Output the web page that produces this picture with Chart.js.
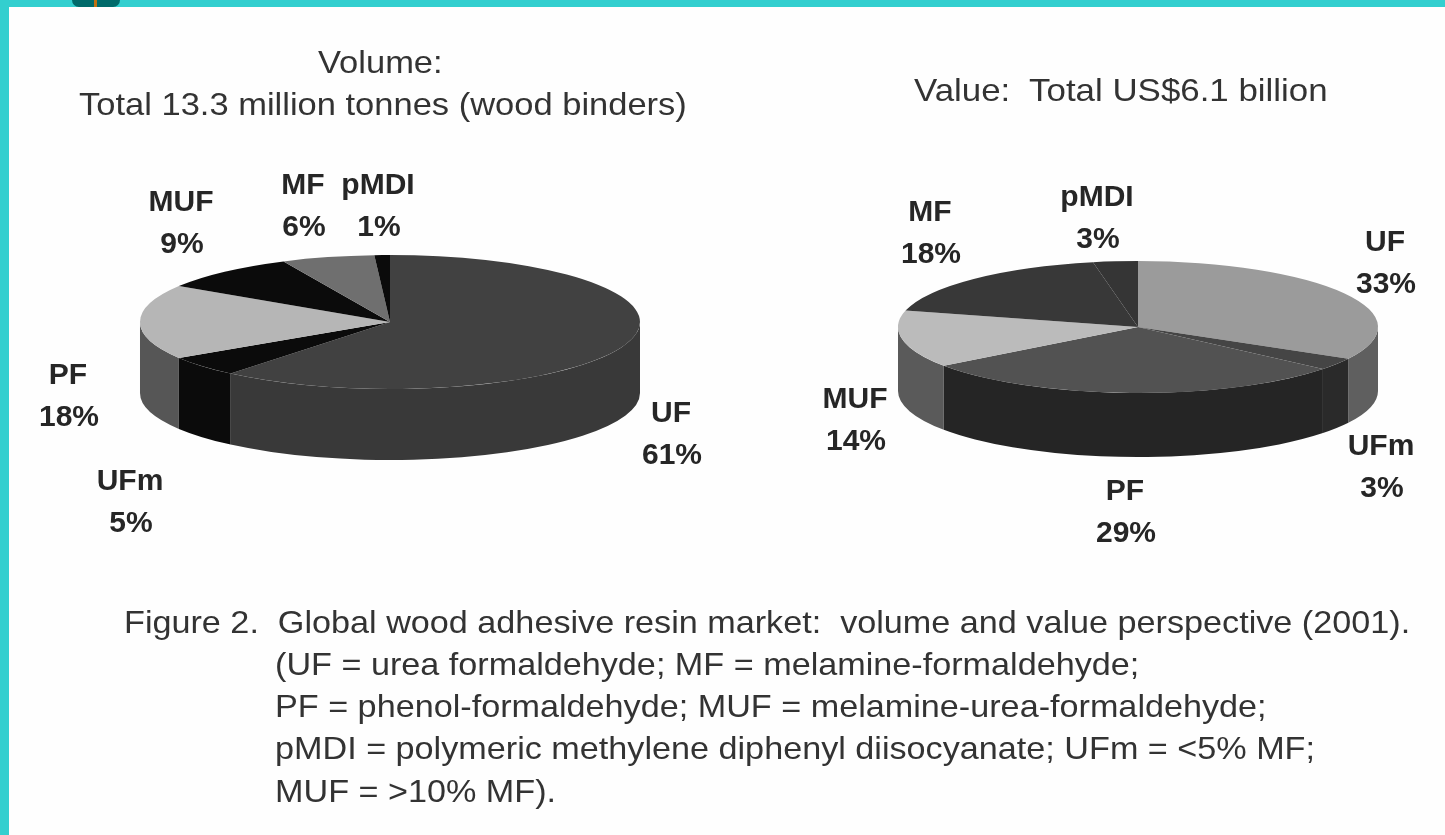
<!DOCTYPE html>
<html>
<head>
<meta charset="utf-8">
<script src="https://cdn.jsdelivr.net/npm/chart.js@4/dist/chart.umd.min.js"></script>
<style>
html,body{margin:0;padding:0;background:#fff;overflow:hidden}
#page{position:relative;width:1445px;height:835px;background:#fefefe;filter:blur(.7px);font-family:"Liberation Sans",Arial,sans-serif;color:#333}
.edge{position:absolute;background:#33cfcf}
#edge-top{left:0;top:0;width:1445px;height:7px}
#edge-left{left:0;top:0;width:9px;height:835px}
#tab{position:absolute;left:72px;top:0;width:48px;height:7px;background:#006a6a;border-radius:0 0 8px 8px}
#tab-bar{position:absolute;left:94px;top:0;width:3px;height:7px;background:#c07010}
canvas{position:absolute;top:0}
.t{position:absolute;white-space:nowrap;font-size:32px;line-height:42px;transform-origin:0 50%;transform:scaleX(1.078)}
.cap{font-size:31.5px;left:275px;transform:scaleX(1.085)}
</style>
</head>
<body>
<div id="page">
  <div class="edge" id="edge-top"></div>
  <div class="edge" id="edge-left"></div>
  <div id="tab"></div><div id="tab-bar"></div>
  <canvas id="pie-volume" width="722" height="835" style="left:0;width:722px;height:835px"></canvas>
  <canvas id="pie-value" width="723" height="835" style="left:722px;width:723px;height:835px"></canvas>
  <div class="t" style="left:318px;top:41px">Volume:</div>
  <div class="t" style="left:79px;top:83px">Total 13.3 million tonnes (wood binders)</div>
  <div class="t" style="left:914px;top:69px;transform:scaleX(1.09)">Value:&nbsp; Total US$6.1 billion</div>
  <div class="t cap" style="left:124px;top:601px">Figure 2.&nbsp; Global wood adhesive resin market:&nbsp; volume and value perspective (2001).</div>
  <div class="t cap" style="top:643px">(UF = urea formaldehyde; MF = melamine-formaldehyde;</div>
  <div class="t cap" style="top:685px">PF = phenol-formaldehyde; MUF = melamine-urea-formaldehyde;</div>
  <div class="t cap" style="top:727px">pMDI = polymeric methylene diphenyl diisocyanate; UFm = &lt;5% MF;</div>
  <div class="t cap" style="top:770px">MUF = &gt;10% MF).</div>
</div>
<script>
// data
const categories=['UF','UFm','PF','MUF','MF','pMDI'];
const volumeShare=[61,5,18,9,6,1];
const valueShare=[33,3,29,14,18,3];

// top face and wall greys per slice
const volumeTop=['#414141','#0b0b0b','#b6b6b6','#0b0b0b','#6f6f6f','#0b0b0b'];
const volumeWall=['#393939','#0b0b0b','#565656','#0b0b0b','#555555','#0b0b0b'];
const valueTop=['#9b9b9b','#454545','#525252','#bbbbbb','#383838','#353535'];
const valueWall=['#5f5f5f','#2a2a2a','#252525','#5a5a5a','#333333','#333333'];

// label centres in canvas px, same order as categories
const volumeLabelPos=[[671,414],[130,482],[68,376],[181,203],[303,186],[378,186]];
const valueLabelPos=[[663,243],[659,447],[403,492],[133,400],[208,213],[375,198]];

// squash the pie into an ellipse and add the side wall
const pie3d={
  id:'pie3d',
  beforeDatasetsDraw(chart,args,o){
    const ctx=chart.ctx, arcs=chart.getDatasetMeta(0).data;
    arcs.forEach((a,i)=>{
      const s=Math.max(a.startAngle,0), e=Math.min(a.endAngle,Math.PI);
      if(e<=s) return;
      const r=a.outerRadius, ry=r*o.squash;
      ctx.beginPath();
      ctx.ellipse(a.x,a.y,r,ry,0,s,e);
      ctx.ellipse(a.x,a.y+o.depth,r,ry,0,e,s,true);
      ctx.closePath();
      ctx.fillStyle=o.wall[i];
      ctx.fill();
    });
    ctx.save();
    ctx.translate(arcs[0].x,arcs[0].y);
    ctx.scale(1,o.squash);
    ctx.translate(-arcs[0].x,-arcs[0].y);
  },
  afterDatasetsDraw(chart){
    chart.ctx.restore();
  },
  afterDraw(chart,args,o){
    const ctx=chart.ctx, ds=chart.data.datasets[0];
    ctx.save();
    ctx.font='bold 30px "Liberation Sans", Arial, sans-serif';
    ctx.fillStyle='#262626';
    ctx.textAlign='center';
    ctx.textBaseline='middle';
    chart.data.labels.forEach((l,i)=>{
      const [x,y]=o.pos[i];
      ctx.fillText(l,x,y);
      ctx.fillText(ds.data[i]+'%',x+1,y+42);
    });
    ctx.restore();
  }
};

function makePie(id,values,top,wall,pos,padding,squash,depth){
  return new Chart(document.getElementById(id),{
    type:'pie',
    data:{labels:categories,datasets:[{data:values,backgroundColor:top,borderWidth:0,clip:false}]},
    options:{responsive:false,animation:false,layout:{padding},
      plugins:{legend:{display:false},tooltip:{enabled:false},pie3d:{squash,depth,wall,pos}}},
    plugins:[pie3d]
  });
}

makePie('pie-volume',volumeShare,volumeTop,volumeWall,volumeLabelPos,{left:140,right:82,top:72,bottom:263},.268,71);
makePie('pie-value',valueShare,valueTop,valueWall,valueLabelPos,{left:176,right:67,top:87,bottom:268},.275,64);
</script>
</body>
</html>
